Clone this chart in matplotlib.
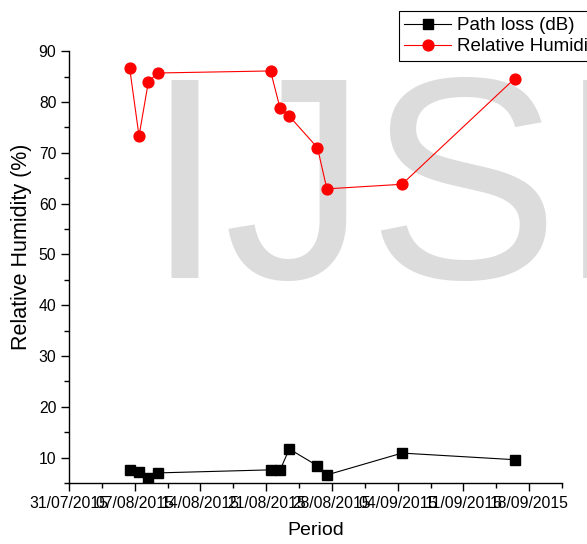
from datetime import datetime

import matplotlib
matplotlib.use("Agg")
import matplotlib.pyplot as plt
import matplotlib.dates as mdates
from matplotlib.ticker import AutoMinorLocator, MultipleLocator

plt.rcParams['font.family'] = ['Liberation Sans', 'DejaVu Sans']

# measurement dates (readings taken late morning)
dates = ['2015-08-06 11:00', '2015-08-07 11:00', '2015-08-08 11:00', '2015-08-09 11:00',
         '2015-08-21 11:00', '2015-08-22 11:00', '2015-08-23 11:00', '2015-08-26 11:00',
         '2015-08-27 11:00', '2015-09-04 11:00', '2015-09-16 11:00']
path_loss = [7.6, 7.2, 5.9, 7.0, 7.6, 7.5, 11.7, 8.4, 6.6, 10.9, 9.6]
humidity = [86.7, 73.3, 84.0, 85.7, 86.1, 78.9, 77.2, 71.0, 62.9, 63.8, 84.6]

tick_labels = ['31/07/2015', '07/08/2015', '14/08/2015', '21/08/2015',
               '28/08/2015', '04/09/2015', '11/09/2015', '18/09/2015']

x = [datetime.strptime(d, '%Y-%m-%d %H:%M') for d in dates]
ticks = [datetime.strptime(t, '%d/%m/%Y') for t in tick_labels]

fig = plt.figure(figsize=(5.87, 5.44), dpi=100)
ax = fig.add_axes([0.1175, 0.112, 0.84, 0.794])
ax.set_facecolor('none')

# watermark behind the data
ax.text(0.247, 0.489, 'IJSER', transform=fig.transFigure, fontsize=207,
        color='#dcdcdc', ha='left', va='baseline', zorder=0, clip_on=False)

ax.plot(x, path_loss, color='black', lw=0.8, marker='s', ms=6.8,
        label='Path loss (dB)', zorder=3)
ax.plot(x, humidity, color='red', lw=0.8, marker='o', ms=7.8,
        label='Relative Humidity (%)', zorder=3)

x0 = mdates.date2num(ticks[0])
ax.set_xlim(x0, x0 + 52.5)
ax.set_ylim(5, 90)
ax.set_xticks(ticks)
ax.set_xticklabels(tick_labels)
ax.xaxis.set_minor_locator(AutoMinorLocator(2))
ax.yaxis.set_major_locator(MultipleLocator(10))
ax.yaxis.set_minor_locator(MultipleLocator(5))

for s in ['top', 'right']:
    ax.spines[s].set_visible(False)
for s in ['left', 'bottom']:
    ax.spines[s].set_linewidth(1.0)
ax.tick_params(which='major', direction='out', length=6, width=1, labelsize=11.3, pad=3)
ax.tick_params(which='minor', direction='out', length=3.5, width=1)

ax.set_xlabel('Period', fontsize=14, labelpad=8)
ax.set_ylabel('Relative Humidity (%)', fontsize=15.5)
ax.yaxis.set_label_coords(-0.075, 0.547)

leg = ax.legend(loc='upper left', bbox_to_anchor=(0.679, 0.979),
                bbox_transform=fig.transFigure, fontsize=13.5, frameon=True,
                fancybox=False, framealpha=1, edgecolor='black',
                handlelength=2.5, handletextpad=0.3, borderpad=0.3,
                labelspacing=0.22, borderaxespad=0)
leg.get_frame().set_linewidth(0.8)

fig.savefig('out.png', dpi=100)
